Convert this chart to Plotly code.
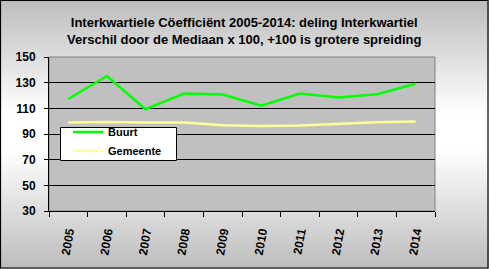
import base64
import plotly.graph_objects as go

years = ["2005", "2006", "2007", "2008", "2009", "2010", "2011", "2012", "2013", "2014"]
buurt = [117.3, 135.2, 109.3, 121.5, 120.7, 112.0, 121.5, 118.4, 121.0, 129.2]
gemeente = [98.9, 99.4, 98.9, 98.9, 96.8, 96.3, 96.6, 97.9, 99.2, 99.7]
y_ticks = [30, 50, 70, 90, 110, 130, 150]
title_lines = ["Interkwartiele Cöefficiënt 2005-2014: deling Interkwartiel",
               "Verschil door de Mediaan x 100, +100 is grotere spreiding"]

W, H = 489, 269
ML, MR, MT, MB = 49, 54, 57, 58
PW, PH = W - ML - MR, H - MT - MB

def px(x):
    return (x - ML) / PW

def py(y):
    return (H - MB - y) / PH

FONT = "Liberation Sans"

# gradient background as an svg image
svg = (f'<svg xmlns="http://www.w3.org/2000/svg" width="{W}" height="{H}" '
       f'viewBox="0 0 {W} {H}" preserveAspectRatio="none">'
       '<defs><linearGradient id="g" x1="0" y1="0" x2="0" y2="1">'
       '<stop offset="0" stop-color="#bcbcbc"/>'
       '<stop offset="0.42" stop-color="#ffffff"/>'
       '<stop offset="0.56" stop-color="#ffffff"/>'
       '<stop offset="1" stop-color="#bcbcbc"/>'
       '</linearGradient></defs>'
       f'<rect x="0" y="0" width="{W}" height="{H}" fill="url(#g)"/></svg>')
bg_src = "data:image/svg+xml;base64," + base64.b64encode(svg.encode()).decode()

fig = go.Figure()
fig.add_trace(go.Scatter(x=years, y=buurt, mode="lines", name="Buurt",
                         line=dict(color="#00ff00", width=2.5)))
fig.add_trace(go.Scatter(x=years, y=gemeente, mode="lines", name="Gemeente",
                         line=dict(color="#ffff99", width=2.5)))

shapes = [
    # plot area background
    dict(type="rect", xref="paper", yref="paper", x0=0, x1=1, y0=0, y1=1,
         fillcolor="#c0c0c0", line=dict(color="#808080", width=1), layer="below"),
    # outer border
    dict(type="rect", xref="paper", yref="paper",
         x0=px(0.5), x1=px(W - 1), y0=py(H - 1), y1=py(0.5),
         fillcolor="rgba(0,0,0,0)", line=dict(color="black", width=1.2), layer="above"),
    # legend box
    dict(type="rect", xref="paper", yref="paper",
         x0=px(60.5), x1=px(176.5), y0=py(160.5), y1=py(127.5),
         fillcolor="white", line=dict(color="black", width=1), layer="above"),
]

fig.update_layout(
    width=W, height=H,
    margin=dict(l=ML, r=MR, t=MT, b=MB, autoexpand=False),
    paper_bgcolor="#e0e0e0",
    plot_bgcolor="rgba(0,0,0,0)",
    shapes=shapes,
    images=[dict(source=bg_src, xref="paper", yref="paper",
                 x=px(0), y=py(0), sizex=W / PW, sizey=H / PH,
                 xanchor="left", yanchor="top", sizing="stretch", layer="below")],
    showlegend=True,
    legend=dict(x=px(68), y=py(117.5), xanchor="left", yanchor="top",
                bgcolor="rgba(0,0,0,0)", borderwidth=0,
                font=dict(family=FONT, size=11, color="black", weight="bold"),
                itemwidth=30, tracegroupgap=0),
    annotations=[dict(text="<br>".join(title_lines), xref="paper", yref="paper",
                      x=px(244), y=py(31), xanchor="center", yanchor="middle",
                      showarrow=False,
                      font=dict(family=FONT, size=13, color="black", weight="bold"))],
    xaxis=dict(type="category", range=[-0.5, 9.5], showgrid=False, automargin=False,
               showline=True, linecolor="black", linewidth=1,
               ticks="outside", tickson="boundaries", ticklen=5, tickcolor="black",
               tickangle=-80, ticklabelstandoff=8,
               tickfont=dict(family=FONT, size=12, color="black", weight="bold")),
    yaxis=dict(range=[30, 150], tickvals=y_ticks, showgrid=True, gridcolor="black",
               gridwidth=1, zeroline=False, automargin=False,
               showline=True, linecolor="black", linewidth=1,
               ticks="outside", ticklen=4, tickcolor="black", ticklabelstandoff=6,
               tickfont=dict(family=FONT, size=12, color="black", weight="bold")),
)

fig.write_html("out.html", config={"displayModeBar": False},
               post_script="document.body.style.margin='0';")
